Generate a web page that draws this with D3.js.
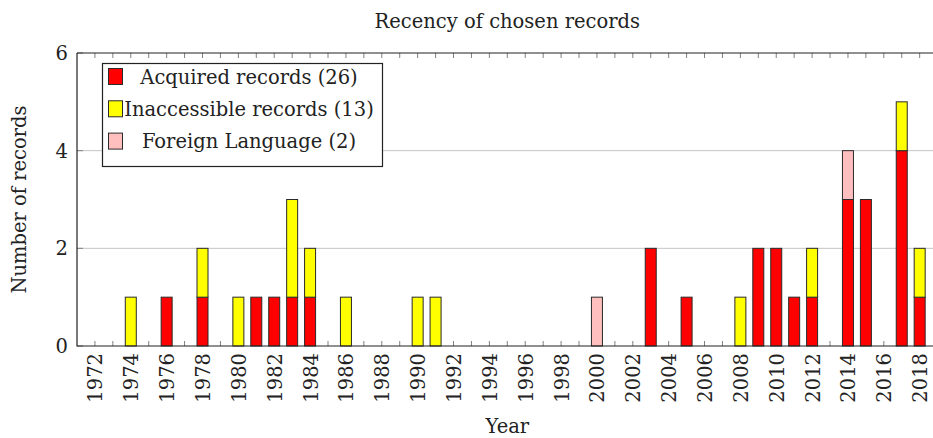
<!DOCTYPE html>
<html><head><meta charset="utf-8">
<script src="https://cdn.jsdelivr.net/npm/d3@7"></script>
<style>
html,body{margin:0;padding:0;background:#fff;}
svg{display:block;}
text{font-family:"DejaVu Serif",serif;fill:#222;}
</style></head>
<body>
<svg id="chart" width="933" height="438"></svg>
<script>
// ---- data ----
const years        = [1974,1976,1978,1980,1981,1982,1983,1984,1986,1990,1991,2000,2003,2005,2008,2009,2010,2011,2012,2014,2015,2017,2018];
const acquired     = [0,1,1,0,1,1,1,1,0,0,0,0,2,1,0,2,2,1,1,3,3,4,1];
const inaccessible = [1,0,1,1,0,0,2,1,1,1,1,0,0,0,1,0,0,0,1,0,0,1,1];
const foreign      = [0,0,0,0,0,0,0,0,0,0,0,1,0,0,0,0,0,0,0,1,0,0,0];
const seriesNames  = ["Acquired records (26)","Inaccessible records (13)","Foreign Language (2)"];
const seriesColors = ["#ff0000","#ffff00","#ffbfbf"];
const xTickLabels  = ["1972","1974","1976","1978","1980","1982","1984","1986","1988","1990","1992","1994","1996","1998","2000","2002","2004","2006","2008","2010","2012","2014","2016","2018"];
const yTicks       = [0,2,4,6];
const title = "Recency of chosen records", xTitle = "Year", yTitle = "Number of records";

// ---- layout ----
const svg = d3.select("#chart");
const L = 77, R = 937.6, T = 53, B = 346;
const x = d3.scaleLinear().domain([1971, 2019]).range([L, R]);
const y = d3.scaleLinear().domain([0, 6]).range([B, T]);
const fs = 19.5;

// grid
svg.append("g").selectAll("line").data(yTicks.filter(d => d > 0 && d < 6)).join("line")
  .attr("x1", L).attr("x2", 933).attr("y1", d => y(d)).attr("y2", d => y(d))
  .attr("stroke", "#c4c4c4").attr("stroke-width", 1);

// minor ticks every year (top and bottom)
const allYears = d3.range(1972, 2019);
const tk = svg.append("g").attr("stroke", "#808080").attr("stroke-width", 1);
tk.selectAll(".tb").data(allYears).join("line").attr("class","tb")
  .attr("x1", d => x(d)).attr("x2", d => x(d)).attr("y1", B).attr("y2", B - 5);
tk.selectAll(".tt").data(allYears).join("line").attr("class","tt")
  .attr("x1", d => x(d)).attr("x2", d => x(d)).attr("y1", T).attr("y2", T + 5);
// y ticks
tk.selectAll(".ty").data(yTicks).join("line").attr("class","ty")
  .attr("x1", L).attr("x2", L + 6).attr("y1", d => y(d)).attr("y2", d => y(d));

// stacked bars
const rows = years.map((yr, i) => ({year: yr, a: acquired[i], b: inaccessible[i], c: foreign[i]}));
const stack = d3.stack().keys(["a","b","c"])(rows);
const bw = 11;
stack.forEach((s, k) => {
  svg.append("g").selectAll("rect").data(s.filter(d => d[1] > d[0])).join("rect")
    .attr("x", d => x(d.data.year) - bw / 2)
    .attr("width", bw)
    .attr("y", d => y(d[1]))
    .attr("height", d => y(d[0]) - y(d[1]))
    .attr("fill", seriesColors[k])
    .attr("stroke", "#2a2a2a").attr("stroke-width", 1);
});

// frame
svg.append("path").attr("d", `M${L},${T}H933M${L},${T}V${B}H933`)
  .attr("fill", "none").attr("stroke", "#222").attr("stroke-width", 1.2);

// x tick labels
svg.append("g").selectAll("text").data(xTickLabels).join("text")
  .attr("transform", d => `translate(${x(+d) + 0.5},${B + 7}) rotate(-90)`)
  .attr("text-anchor", "end").attr("dy", "0.36em")
  .style("font-size", fs + "px").text(d => d);

// y tick labels
svg.append("g").selectAll("text").data(yTicks).join("text")
  .attr("x", L - 9).attr("y", d => y(d)).attr("dy", "0.36em")
  .attr("text-anchor", "end").style("font-size", fs + "px").text(d => d);

// titles
svg.append("text").attr("x", (L + R) / 2).attr("y", 28).attr("text-anchor", "middle")
  .style("font-size", fs + "px").text(title);
svg.append("text").attr("x", (L + R) / 2).attr("y", 433).attr("text-anchor", "middle")
  .style("font-size", fs + "px").text(xTitle);
svg.append("text").attr("transform", `translate(26,${(T + B) / 2}) rotate(-90)`)
  .attr("text-anchor", "middle").style("font-size", fs + "px").text(yTitle);

// legend
const lg = svg.append("g");
lg.append("rect").attr("x", 102.5).attr("y", 63.5).attr("width", 280).attr("height", 103)
  .attr("fill", "#fff").attr("stroke", "#222").attr("stroke-width", 1.2);
seriesNames.forEach((n, i) => {
  const cy = 76.5 + i * 32.3;
  lg.append("rect").attr("x", 108.5).attr("y", cy - 8).attr("width", 14).attr("height", 16)
    .attr("fill", seriesColors[i]).attr("stroke", "#2a2a2a").attr("stroke-width", 1);
  lg.append("text").attr("x", 249).attr("y", cy).attr("dy", "0.36em")
    .attr("text-anchor", "middle").style("font-size", fs + "px").text(n);
});
</script>
</body></html>
